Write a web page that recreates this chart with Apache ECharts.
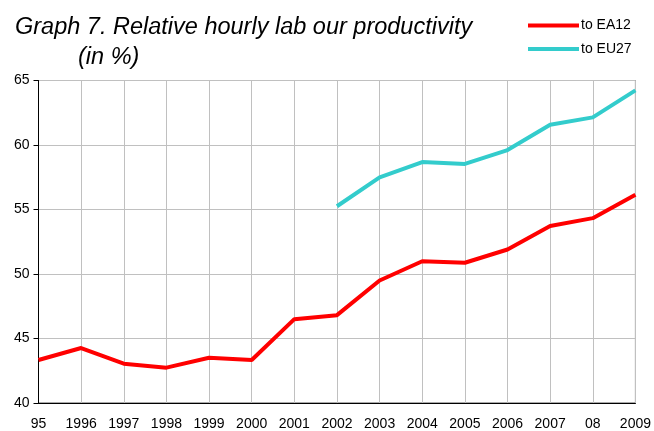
<!DOCTYPE html>
<html>
<head>
<meta charset="utf-8">
<script src="https://cdn.jsdelivr.net/npm/echarts@6/dist/echarts.min.js"></script>
<style>html,body{margin:0;padding:0;background:#fff}#c{width:654px;height:431px}</style>
</head>
<body>
<div id="c"></div>
<script>
const categories = ['95','1996','1997','1998','1999','2000','2001','2002','2003','2004','2005','2006','2007','08','2009'];
const ea12 = [43.33, 44.26, 43.05, 42.74, 43.51, 43.33, 46.5, 46.81, 49.5, 50.99, 50.87, 51.9, 53.72, 54.33, 56.15];
const eu27 = [null, null, null, null, null, null, null, 55.25, 57.49, 58.68, 58.53, 59.61, 61.57, 62.14, 64.23];
const yTicks = {min: 40, max: 65, interval: 5};

const chart = echarts.init(document.getElementById('c'), null, {renderer: 'canvas'});
const font = 'Liberation Sans';
chart.setOption({
  animation: false,
  backgroundColor: '#fff',
  title: [
    {text: 'Graph 7. Relative hourly lab our productivity', left: 10, top: 11,
     textStyle: {fontFamily: font, fontStyle: 'italic', fontWeight: 'normal', fontSize: 23.5, color: '#000'}},
    {text: '(in %)', left: 73, top: 41,
     textStyle: {fontFamily: font, fontStyle: 'italic', fontWeight: 'normal', fontSize: 23.5, color: '#000'}}
  ],
  legend: {
    orient: 'vertical', left: 523, top: 13.5, itemGap: 9.5,
    itemWidth: 51, itemHeight: 4, icon: 'rect',
    textStyle: {fontFamily: font, fontSize: 14, color: '#000', padding: [0,0,0,-3]},
    data: ['to EA12', 'to EU27']
  },
  grid: {left: 38.5, right: 16.5, top: 80.5, bottom: 27.5, show: true, borderColor: '#555', borderWidth: 1},
  xAxis: {
    type: 'category', data: categories, boundaryGap: false,
    axisLine: {lineStyle: {color: '#000', width: 1}},
    axisTick: {show: false},
    axisLabel: {fontFamily: font, fontSize: 14, color: '#000', margin: 14},
    splitLine: {show: true, lineStyle: {color: '#c0c0c0', width: 1}}
  },
  yAxis: {
    type: 'value', min: yTicks.min, max: yTicks.max, interval: yTicks.interval,
    axisLine: {show: true, lineStyle: {color: '#000', width: 1}},
    axisTick: {show: true, length: 5, lineStyle: {color: '#000'}},
    axisLabel: {fontFamily: font, fontSize: 14, color: '#000', margin: 9},
    splitLine: {show: true, lineStyle: {color: '#c0c0c0', width: 1}}
  },
  series: [
    {name: 'to EA12', type: 'line', data: ea12, symbol: 'none', color: '#ff0000', lineStyle: {width: 4, color: '#ff0000'}},
    {name: 'to EU27', type: 'line', data: eu27, symbol: 'none', color: '#33cccc', lineStyle: {width: 4, color: '#33cccc'}}
  ]
});
</script>
</body>
</html>
